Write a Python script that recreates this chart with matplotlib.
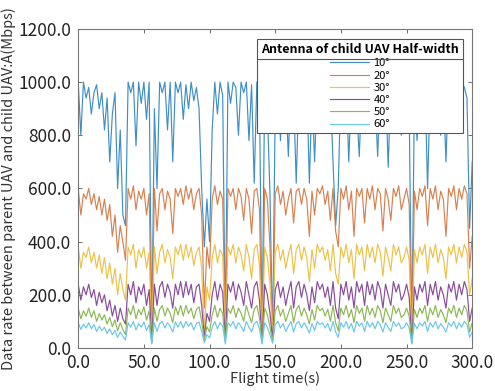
import numpy as np
import matplotlib
matplotlib.use("Agg")
import matplotlib.pyplot as plt
from matplotlib.lines import Line2D

plt.rcParams['font.family'] = ['Noto Sans CJK JP', 'DejaVu Sans']

step = 2.0  # seconds between samples

s10 = [1000, 800, 1000, 940, 980, 880, 960, 990, 900, 960,
       820, 940, 700, 880, 960, 600, 820, 500, 460, 1000,
       960, 1000, 760, 1000, 920, 1000, 860, 1000, 40, 900,
       600, 1000, 960, 1000, 820, 1000, 700, 1000, 960, 1000,
       860, 990, 900, 1000, 930, 980, 900, 600, 380, 560,
       400, 820, 1000, 880, 1000, 950, 60, 1000, 920, 1000,
       980, 800, 1000, 960, 1000, 780, 990, 620, 1000, 950,
       30, 1000, 900, 580, 40, 900, 1000, 780, 1000, 960,
       720, 1000, 950, 620, 980, 1000, 900, 1000, 620, 960,
       700, 1000, 940, 1000, 880, 1000, 960, 700, 460, 600,
       1000, 940, 1000, 700, 980, 1000, 900, 720, 1000, 960,
       1000, 880, 1000, 950, 720, 1000, 960, 1000, 680, 980,
       1000, 900, 1000, 800, 980, 1000, 900, 30, 960, 780,
       1000, 950, 1000, 600, 980, 1000, 900, 1000, 800, 980,
       700, 1000, 960, 1000, 920, 1000, 1000, 980, 940, 450,
       700]

s20 = [600, 500, 580, 560, 600, 540, 580, 520, 570, 500,
       560, 480, 540, 420, 500, 360, 460, 400, 330, 600,
       560, 610, 520, 590, 560, 600, 500, 580, 30, 600,
       440, 580, 600, 520, 590, 560, 430, 600, 570, 600,
       540, 610, 560, 600, 520, 580, 600, 500, 150, 380,
       300, 560, 610, 540, 590, 560, 60, 600, 570, 600,
       520, 600, 570, 480, 600, 560, 430, 590, 600, 520,
       30, 600, 560, 380, 40, 580, 610, 540, 590, 500,
       560, 600, 470, 590, 600, 540, 600, 560, 420, 590,
       500, 600, 580, 610, 540, 590, 480, 600, 440, 380,
       600, 560, 610, 520, 590, 420, 600, 570, 600, 470,
       600, 560, 610, 520, 600, 580, 440, 600, 560, 480,
       600, 570, 610, 520, 560, 600, 540, 30, 590, 520,
       600, 570, 610, 460, 600, 560, 610, 520, 590, 560,
       420, 600, 570, 610, 520, 600, 560, 610, 580, 300,
       420]

s30 = [380, 300, 360, 340, 380, 320, 360, 300, 350, 280,
       340, 260, 320, 240, 300, 200, 280, 220, 180, 380,
       350, 390, 300, 370, 340, 380, 300, 360, 20, 380,
       280, 360, 390, 320, 370, 340, 260, 380, 350, 390,
       330, 390, 340, 380, 310, 360, 380, 300, 60, 230,
       180, 340, 390, 320, 370, 350, 40, 380, 350, 390,
       320, 380, 350, 290, 390, 340, 260, 370, 390, 310,
       20, 380, 340, 240, 30, 360, 390, 330, 370, 300,
       350, 390, 280, 370, 390, 330, 380, 340, 250, 370,
       300, 390, 360, 380, 330, 370, 290, 390, 280, 240,
       380, 340, 390, 320, 370, 260, 390, 350, 380, 290,
       390, 340, 380, 320, 390, 360, 270, 380, 340, 290,
       390, 350, 380, 320, 340, 380, 330, 20, 370, 320,
       380, 350, 390, 280, 380, 340, 390, 320, 370, 340,
       260, 380, 350, 390, 320, 380, 340, 390, 360, 200,
       260]

s40 = [240, 180, 230, 200, 240, 190, 220, 160, 210, 170,
       200, 140, 180, 120, 160, 100, 150, 110, 90, 240,
       200, 250, 170, 230, 200, 240, 160, 220, 20, 240,
       160, 230, 250, 190, 240, 210, 150, 240, 200, 250,
       190, 250, 200, 240, 170, 230, 240, 160, 40, 130,
       100, 200, 250, 180, 240, 210, 30, 240, 210, 250,
       180, 240, 210, 160, 250, 200, 150, 230, 250, 180,
       20, 240, 200, 130, 30, 220, 250, 190, 230, 160,
       210, 250, 150, 230, 250, 190, 240, 200, 140, 230,
       170, 250, 220, 240, 190, 230, 160, 250, 150, 110,
       240, 200, 250, 180, 230, 150, 250, 210, 240, 160,
       250, 200, 240, 180, 250, 220, 150, 240, 200, 160,
       250, 210, 240, 180, 200, 240, 190, 20, 230, 180,
       240, 210, 250, 160, 240, 200, 250, 180, 230, 200,
       150, 240, 210, 250, 180, 240, 200, 250, 220, 100,
       150]

s50 = [150, 110, 140, 120, 150, 115, 140, 100, 130, 105,
       125, 90, 115, 80, 105, 65, 95, 70, 50, 150,
       125, 160, 110, 145, 125, 155, 105, 140, 20, 150,
       100, 145, 160, 120, 150, 130, 95, 155, 125, 160,
       120, 160, 130, 150, 110, 145, 155, 100, 30, 80,
       60, 125, 160, 115, 150, 130, 25, 150, 130, 160,
       115, 150, 130, 100, 160, 125, 95, 145, 160, 115,
       20, 150, 125, 80, 25, 140, 160, 120, 145, 100,
       130, 160, 95, 145, 160, 120, 150, 125, 90, 145,
       105, 160, 140, 150, 120, 145, 100, 160, 95, 65,
       150, 125, 160, 115, 145, 95, 160, 130, 150, 100,
       160, 125, 150, 115, 160, 140, 95, 150, 125, 100,
       160, 130, 150, 115, 125, 150, 120, 20, 145, 115,
       150, 130, 160, 100, 150, 125, 160, 115, 145, 125,
       95, 150, 130, 160, 115, 150, 125, 160, 140, 60,
       95]

s60 = [95, 70, 90, 75, 95, 72, 88, 62, 82, 65,
       78, 55, 72, 50, 66, 40, 60, 44, 30, 95,
       78, 100, 68, 92, 78, 98, 66, 88, 15, 95,
       62, 92, 100, 75, 95, 82, 60, 98, 78, 100,
       75, 100, 82, 95, 68, 92, 98, 62, 20, 50,
       38, 78, 100, 72, 95, 82, 15, 95, 82, 100,
       72, 95, 82, 62, 100, 78, 60, 92, 100, 72,
       15, 95, 78, 50, 18, 88, 100, 75, 92, 62,
       82, 100, 60, 92, 100, 75, 95, 78, 56, 92,
       66, 100, 88, 95, 75, 92, 62, 100, 60, 40,
       95, 78, 100, 72, 92, 60, 100, 82, 95, 62,
       100, 78, 95, 72, 100, 88, 60, 95, 78, 62,
       100, 82, 95, 72, 78, 95, 75, 15, 92, 72,
       95, 82, 100, 62, 95, 78, 100, 72, 92, 78,
       60, 95, 82, 100, 72, 95, 78, 100, 88, 40,
       60]

labels = ["10°", "20°", "30°", "40°", "50°", "60°"]
series = [s10, s20, s30, s40, s50, s60]
colors = ["#3f8fc4", "#d9804f", "#ecc24a", "#8a4c9c", "#8cb856", "#6cc6ea"]

xticks = [0, 50, 100, 150, 200, 250, 300]
yticks = [0, 200, 400, 600, 800, 1000, 1200]

fig = plt.figure(figsize=(4.95, 3.91), dpi=100)
ax = fig.add_axes([0.158, 0.110, 0.796, 0.816])

for y, c, lab in zip(series, colors, labels):
    t = np.arange(len(y)) * step
    ax.plot(t, y, color=c, lw=0.85, label=lab)

ax.set_xlim(0, 300)
ax.set_ylim(0, 1200)
ax.set_xticks(xticks)
ax.set_yticks(yticks)
ax.set_xticklabels([f"{v:.1f}" for v in xticks], fontsize=12.5, color="#222222")
ax.set_yticklabels([f"{v:.1f}" for v in yticks], fontsize=12.5, color="#222222")
ax.tick_params(direction="in", length=3, width=0.6, top=True, right=True,
               colors="#555555", labelcolor="#222222")
ax.tick_params(axis="y", pad=5)
ax.tick_params(axis="x", pad=4)
for sp in ax.spines.values():
    sp.set_color("#777777")
    sp.set_linewidth(0.8)

ax.set_xlabel("Flight time(s)", fontsize=10.5, color="#333333", labelpad=0)
ax.set_ylabel("Data rate between parent UAV and child UAV:A(Mbps)", fontsize=10.5,
              color="#333333", labelpad=2)

leg = ax.legend(title="Antenna of child UAV Half-width", loc="upper right",
                bbox_to_anchor=(0.99, 0.985), fontsize=8, handlelength=3.5,
                handletextpad=0.4, labelspacing=0.2, borderpad=0.35,
                fancybox=False, framealpha=1, edgecolor="#555555",
                title_fontproperties={"weight": "bold", "size": 9})
leg.get_frame().set_linewidth(0.8)

fig.canvas.draw()
bb = leg.get_window_extent()
tb = leg.get_title().get_window_extent()
inv = fig.transFigure.inverted()
(x0, y0), (x1, y1) = inv.transform([[bb.x0, tb.y0 - 3], [bb.x1, tb.y0 - 3]])
fig.add_artist(Line2D([x0, x1], [y0, y1], color="#555555", lw=0.8))

fig.savefig("out.png", dpi=100)
